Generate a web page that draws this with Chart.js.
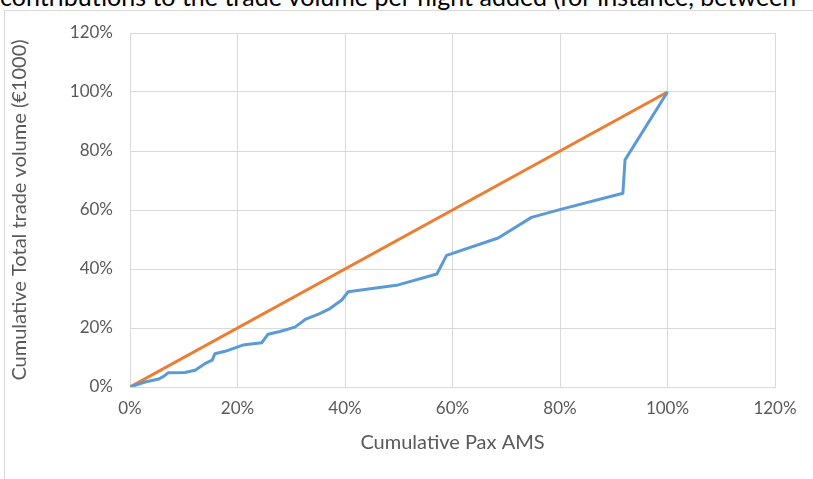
<!DOCTYPE html>
<html>
<head>
<meta charset="utf-8">
<script src="https://cdn.jsdelivr.net/npm/chart.js@4"></script>
<style>
  html, body { margin:0; padding:0; background:#fff; }
  #wrap { position:relative; width:813px; height:479px; overflow:hidden; background:#fff; }
  #toptext { position:absolute; left:0; top:-16px; white-space:nowrap; font-family:Lato, "Open Sans", sans-serif; font-size:25px; line-height:25px; color:#000; }
  #frame { position:absolute; left:4px; top:10px; width:900px; height:600px; border:1px solid #d9d9d9; box-sizing:border-box; }
  #c { position:absolute; left:0; top:0; }
</style>
</head>
<body>
<div id="wrap">
  <div id="toptext">contributions to the trade volume per flight added (for instance, between</div>
  <div id="frame"></div>
  <canvas id="c" width="813" height="479"></canvas>
</div>
<script>
// Cumulative Pax AMS (%)
const paxAms = [0, 2.8, 4.3, 5.2, 6.1, 7.1, 10.2, 12.1, 14.0, 15.3, 15.8, 17.7, 21.0, 24.5, 25.7, 27.9, 30.7, 32.6, 35.3, 37.2, 39.4, 40.6, 49.9, 57.1, 58.9, 68.5, 74.7, 80.3, 91.7, 92.1, 100];
// Cumulative Total trade volume (%)
const tradeVolume = [0, 1.7, 2.3, 2.6, 3.4, 4.8, 4.9, 5.7, 8.0, 9.1, 11.3, 12.1, 14.2, 15.0, 17.9, 18.8, 20.3, 22.9, 24.9, 26.6, 29.5, 32.3, 34.6, 38.3, 44.6, 50.5, 57.5, 60.3, 65.7, 77.0, 100];
// Equality line
const equalX = [0, 100];
const equalY = [0, 100];
const xTicks = [0, 20, 40, 60, 80, 100, 120];
const yTicks = [0, 20, 40, 60, 80, 100, 120];

const blueData = paxAms.map((x, i) => ({x, y: tradeVolume[i]}));
const orangeData = equalX.map((x, i) => ({x, y: equalY[i]}));

const tickColor = '#595959';
const gridColor = '#d9d9d9';
const fontFam = 'Lato, "Open Sans", sans-serif';

new Chart(document.getElementById('c'), {
  type: 'scatter',
  data: {
    datasets: [
      { data: blueData, showLine: true, borderColor: '#5B9BD5', backgroundColor: '#5B9BD5', borderWidth: 3, pointRadius: 0, tension: 0, borderJoinStyle: 'round' },
      { data: orangeData, showLine: true, borderColor: '#ED7D31', backgroundColor: '#ED7D31', borderWidth: 3, pointRadius: 0, tension: 0 }
    ]
  },
  options: {
    responsive: false,
    animation: false,
    layout: { padding: { left: 0, top: 33, right: 38, bottom: 20 } },
    plugins: { legend: { display: false }, tooltip: { enabled: false } },
    scales: {
      x: {
        type: 'linear', min: 0, max: 120,
        afterBuildTicks: s => { s.ticks = xTicks.map(v => ({value: v})); },
        afterFit: s => { s.height = 72; },
        grid: { color: gridColor, lineWidth: 1, drawTicks: false },
        border: { color: gridColor, width: 1 },
        ticks: { color: tickColor, font: { family: fontFam, size: 17 }, padding: 11, callback: v => v + '%' },
        title: { display: true, text: 'Cumulative Pax AMS', color: tickColor, font: { family: fontFam, size: 20 }, padding: { top: 12 } }
      },
      y: {
        type: 'linear', min: 0, max: 120,
        afterBuildTicks: s => { s.ticks = yTicks.map(v => ({value: v})); },
        afterFit: s => { s.width = 130; },
        grid: { color: gridColor, lineWidth: 1, drawTicks: false },
        border: { color: gridColor, width: 1 },
        ticks: { color: tickColor, font: { family: fontFam, size: 17 }, padding: 17, callback: v => v + '%' },
        title: { display: true, text: 'Cumulative Total trade volume (€1000)', color: tickColor, font: { family: fontFam, size: 20 }, padding: { top: 8, bottom: 0 } }
      }
    }
  }
});
</script>
</body>
</html>
